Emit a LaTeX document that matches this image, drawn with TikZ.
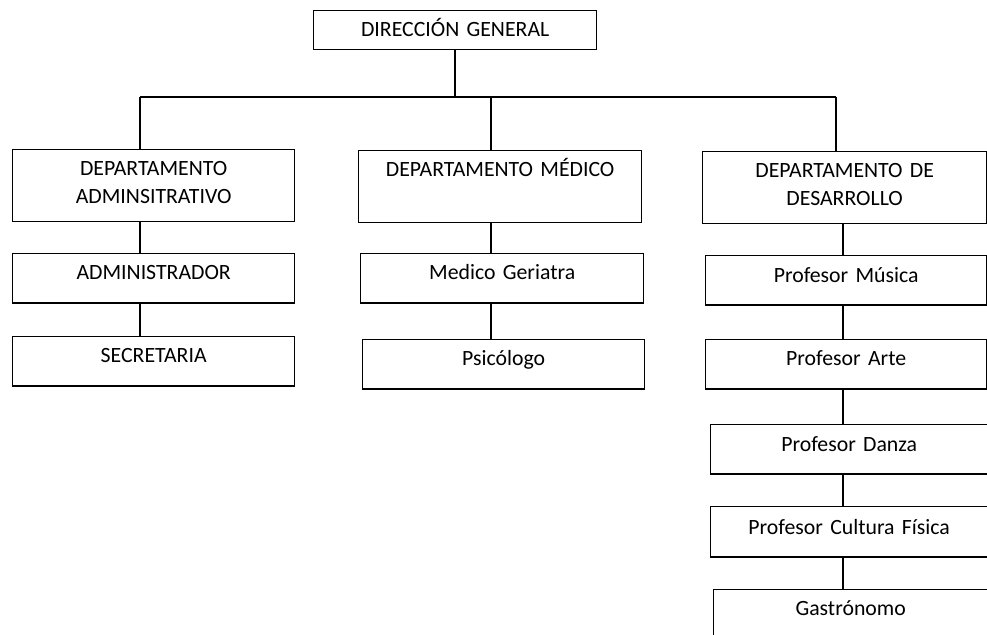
\documentclass[tikz,border=0pt]{standalone}
\usepackage{fontspec}
\setmainfont[WordSpace=0.85]{Carlito}
\usepackage{tikz}
\usetikzlibrary{calc,positioning}

\tikzset{
  box/.style={draw, line width=0.8pt, inner xsep=0pt, inner ysep=0pt, align=center,
    text height=14.5pt, text depth=13.6pt, anchor=north west,
    font=\fontsize{12.4}{16.4}\selectfont},
  deptbox/.style={box, text depth=26.4pt},
  link/.style={line width=0.8pt}
}

\begin{document}
\begin{tikzpicture}[x=0.02cm, y=-0.02cm]
            \useasboundingbox (0,0) rectangle (987,635);

            % Top box
            \node[box, text width=5.66cm, text depth=7.6pt] (dg) at (313,10) {DIRECCIÓN GENERAL};

            % Departments
            \node[deptbox, text width=5.64cm] (adm) at (12,149) {DEPARTAMENTO\\ADMINSITRATIVO};
            \node[deptbox, text width=5.66cm] (med) at (358,150) {DEPARTAMENTO MÉDICO};
            \node[deptbox, text width=5.68cm] (des) at (702,151) {DEPARTAMENTO DE\\DESARROLLO};

            % Left column
            \node[box, text width=5.64cm] (admin) at (12,253) {ADMINISTRADOR};
            \node[box, text width=5.64cm] (secre) at (12,336) {SECRETARIA};

            % Middle column
            \node[box, text width=5.66cm] (geri) at (360,253) {Medico Geriatra};
            \node[box, text width=5.64cm] (psico) at (362,339) {Psicólogo};

            % Right column
            \node[box, text width=5.62cm, text height=15.5pt, text depth=12.6pt] (musica) at (705,255) {Profesor Música};
            \node[box, text width=5.62cm] (arte) at (705,339) {Profesor Arte};
            \node[box, text width=5.54cm, text height=15.5pt, text depth=12.6pt] (danza) at (710,424) {Profesor Danza};
            \node[box, text width=5.54cm, text height=16pt, text depth=12.6pt] (fisica) at (710,506) {Profesor Cultura Física};
            \node[box, text width=5.48cm, text depth=30pt] (gastro) at (713,589) {Gastrónomo};

            % Bus lines
            \coordinate (busL) at (140,97);
            \coordinate (busM) at (491,97);
            \coordinate (busR) at (836,97);
            \coordinate (colR) at (843,0);

            \draw[link] (dg.south) -- (dg.south |- busL);
            \draw[link] (busL) -- (busR);
            \draw[link] (busL) -- (busL |- adm.north);
            \draw[link] (busM) -- (busM |- med.north);
            \draw[link] (busR) -- (busR |- des.north);

            % Column links
            \foreach \a/\b in {adm/admin, admin/secre}
              \draw[link] (\a.south -| busL) -- (\b.north -| busL);
            \foreach \a/\b in {med/geri, geri/psico}
              \draw[link] (\a.south -| busM) -- (\b.north -| busM);
            \foreach \a/\b in {des/musica, musica/arte, arte/danza, danza/fisica, fisica/gastro}
              \draw[link] (\a.south -| colR) -- (\b.north -| colR);
        \end{tikzpicture}
\end{document}
